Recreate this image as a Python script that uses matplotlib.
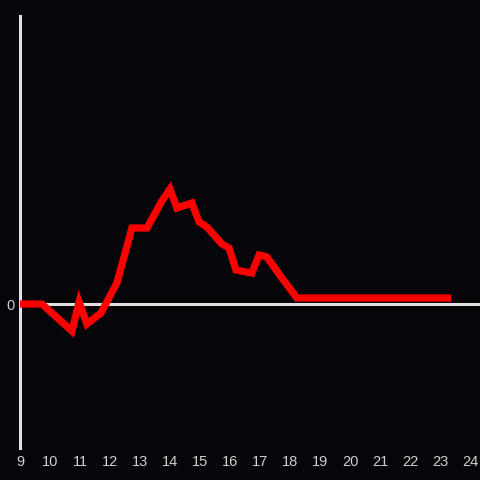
import matplotlib
matplotlib.use('Agg')
import matplotlib.pyplot as plt
import numpy as np

# hours of the day and the value
hours = [9.0, 9.73, 10.73, 10.97, 11.23, 11.7, 12.23, 12.73, 13.23, 13.73, 14.0,
         14.23, 14.73, 14.97, 15.23, 15.73, 15.97, 16.2, 16.73, 16.97, 17.23,
         17.73, 18.23, 23.37]
values = [0, 0, -27, 2, -20, -9, 21, 76, 76, 103, 115,
          96, 101, 82, 77, 60, 56, 34, 31, 49, 47,
          26, 6, 6]
xticks = list(range(9, 25))

bg = '#060509'
axis_col = '#e0e0e0'

fig = plt.figure(figsize=(4.8, 4.8), dpi=100, facecolor=bg)
ax = fig.add_axes([20/480, 32/480, 460/480, 432/480], facecolor=bg)

ax.plot(hours, values, color='#ff0000', linewidth=5.2, solid_joinstyle='miter',
        solid_capstyle='butt', zorder=3)
ax.axhline(0, color=axis_col, linewidth=2.2, zorder=2)

ax.set_xlim(9, 9 + 460/30)
ax.set_ylim(-144, 288)

for s in ['top', 'right', 'bottom']:
    ax.spines[s].set_visible(False)
ax.spines['left'].set_color(axis_col)
ax.spines['left'].set_linewidth(2.2)

ax.set_xticks(xticks)
ax.set_xticklabels([str(t) for t in xticks])
ax.set_yticks([0])
ax.set_yticklabels(['0'])
ax.tick_params(length=0, colors='#d0d0d0', labelsize=10.5, pad=5)
ax.tick_params(axis='y', pad=4)
for lab in ax.get_xticklabels() + ax.get_yticklabels():
    lab.set_fontfamily('Liberation Sans')

fig.savefig('out.png', dpi=100, facecolor=bg)
